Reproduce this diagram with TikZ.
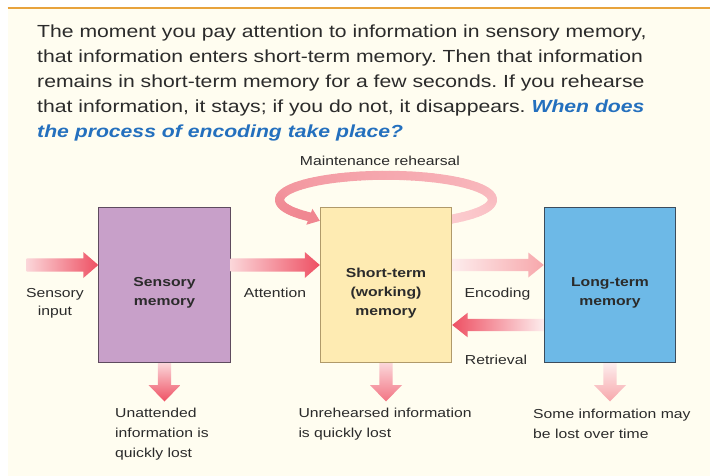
\documentclass[tikz,border=0pt]{standalone}
\usepackage{fontspec}
\setmainfont{Liberation Sans}[FakeStretch=1.21]
\usetikzlibrary{calc}
\frenchspacing

\definecolor{cream}{HTML}{FFFDF0}
\definecolor{rulecol}{HTML}{E8A33C}
\definecolor{ink}{HTML}{2B2B2B}
\definecolor{askblue}{HTML}{2470BE}
\definecolor{sensfill}{HTML}{C8A0C9}
\definecolor{sensline}{HTML}{5E4B5E}
\definecolor{stmfill}{HTML}{FEEBB2}
\definecolor{stmline}{HTML}{B09A6A}
\definecolor{ltmfill}{HTML}{6DB9E7}
\definecolor{ltmline}{HTML}{3C4C5C}
\definecolor{flowpale}{HTML}{FBD6D9}
\definecolor{flowred}{HTML}{EE5063}
\definecolor{flowmid}{HTML}{F27483}
\definecolor{softpale}{HTML}{FDEDED}
\definecolor{softred}{HTML}{F7A7AB}
\definecolor{looptail}{HTML}{FCCDD0}
\definecolor{loophead}{HTML}{F08690}

\pgfdeclarelayer{behind}
\pgfsetlayers{behind,main}

% broad shaded arrow: #1 shading, #2 tail, #3 tip,
% #4 half shaft width, #5 half head width, #6 head length
\newcommand\flowarrow[6]{%
  \path ($(#3)!#6!(#2)$) coordinate (hb);
  \shade[#1] ($(#2)!#4!90:(#3)$) -- ($(hb)!#4!90:(#3)$) -- ($(hb)!#5!90:(#3)$)
    -- (#3) -- ($(hb)!#5!-90:(#3)$) -- ($(hb)!#4!-90:(#3)$)
    -- ($(#2)!#4!-90:(#3)$) -- cycle;
}

\begin{document}
\begin{tikzpicture}[x=1pt,y=-1pt,
  memory/.style={draw, line width=1.1pt, minimum width=131.3pt,
    minimum height=154.8pt, inner sep=0pt},
  boxlabel/.style={font=\fontsize{13}{19.3}\selectfont\bfseries, text=ink,
    align=center, inner sep=0pt, anchor=north},
  note/.style={font=\fontsize{13}{20}\selectfont, text=ink, inner sep=0pt},
  para/.style={font=\fontsize{17.5}{25}\selectfont, text=ink,
    anchor=base west, inner sep=0pt}]

\useasboundingbox (0,0) rectangle (710,476);

\begin{pgfonlayer}{behind}
  \fill[white] (0,0) rectangle (710,476);
  \fill[cream] (7.5,8) rectangle (710,476);
  \draw[rulecol, line width=1.5pt] (7.5,8) -- (710,8);
\end{pgfonlayer}

% introductory paragraph
\node[para] (p1) at (37,37.5) {The moment you pay attention to information in sensory memory,};
\node[para] (p2) at (37,62.5) {that information enters short-term memory. Then that information};
\node[para] (p3) at (37,87.5) {remains in short-term memory for a few seconds. If you rehearse};
\node[para] (p4) at (37,112.5) {that information, it stays; if you do not, it disappears. {\color{askblue}\bfseries\itshape When does}};
\node[para] (p5) at (37,137.5) {{\color{askblue}\bfseries\itshape the process of encoding take place?}};

% the three memory stores
\node[memory, fill=sensfill, draw=sensline] (sm) at (164.5,285.25) {};
\node[memory, fill=stmfill, draw=stmline] (stm) at (386,285.25) {};
\node[memory, fill=ltmfill, draw=ltmline] (ltm) at (610,285.25) {};

\node[boxlabel] (smtext) at (164.5,277) {Sensory\\memory};
\node[boxlabel] (stmtext) at (386,267.5) {Short-term\\(working)\\memory};
\node[boxlabel] (ltmtext) at (610,277) {Long-term\\memory};

% maintenance rehearsal loop, passing behind the short-term store
\begin{pgfonlayer}{behind}
  \coordinate (lc) at ($(stm.north)+(0,-7.5)$);
  \foreach \a [evaluate=\a as \p using {(60-\a)/2.84}] in {60,56,...,-220} {
    \draw[line width=9pt, line cap=round, color=loophead!\p!looptail]
      (lc) ++(\a:106.5 and 24.5)
      arc[start angle=\a, end angle=\a-4, x radius=106.5, y radius=24.5];
  }
  \path (lc) ++(-224:106.5 and 24.5) coordinate (lb);
  \coordinate (lt) at ($(stm.north west)+(0,13.5)$);
  \fill[loophead] ($(lb)!8.5pt!90:(lt)$) -- (lt) -- ($(lb)!8.5pt!-90:(lt)$) -- cycle;
\end{pgfonlayer}

% flows between the stores
\coordinate (inlet) at (26.5,265);
\coordinate (back) at (544,325);
\coordinate (smin) at (sm.west |- inlet);
\coordinate (smout) at (sm.east |- inlet);
\coordinate (stmin) at (stm.west |- inlet);
\coordinate (stmout) at (stm.east |- inlet);
\coordinate (ltmin) at (ltm.west |- inlet);
\coordinate (ltmback) at (ltm.west |- back);
\coordinate (stmback) at (stm.east |- back);
\coordinate (smlost) at ($(sm.south)+(0,38.3)$);
\coordinate (stmlost) at ($(stm.south)+(0,38.3)$);
\coordinate (ltmlost) at ($(ltm.south)+(0,38.3)$);

\flowarrow{left color=flowpale, right color=flowred}{inlet}{smin}{6.7pt}{13pt}{15pt}
\flowarrow{left color=flowpale, right color=flowred}{smout}{stmin}{6.7pt}{13pt}{15pt}
\flowarrow{left color=softpale, right color=softred}{stmout}{ltmin}{6.2pt}{12.5pt}{15.5pt}
\flowarrow{left color=flowred, right color=softpale}{ltmback}{stmback}{6.2pt}{12.3pt}{15.5pt}
\flowarrow{top color=flowpale, bottom color=flowred}{sm.south}{smlost}{6.7pt}{16pt}{16.5pt}
\flowarrow{top color=flowpale, bottom color=flowmid}{stm.south}{stmlost}{6.7pt}{16pt}{16.5pt}
\flowarrow{top color=softpale, bottom color=softred}{ltm.south}{ltmlost}{6.7pt}{16pt}{16.5pt}

% flow labels
\node[note, anchor=base] (maint) at (380,165.7) {Maintenance rehearsal};
\node[note, anchor=north, align=center, font=\fontsize{13}{18}\selectfont] (sinput) at (55,287.8) {Sensory\\input};
\node[note, anchor=base] (attn) at (275,297) {Attention};
\node[note, anchor=base] (enc) at (497.5,297.3) {Encoding};
\node[note, anchor=base] (ret) at (496,364) {Retrieval};

\node[note, anchor=north west, align=left] (lost1) at (115,408.2) {Unattended\\information is\\quickly lost};
\node[note, anchor=north west, align=left] (lost2) at (298.3,408.2) {Unrehearsed information\\is quickly lost};
\node[note, anchor=north west, align=left] (lost3) at (533,408.5) {Some information may\\be lost over time};

\end{tikzpicture}
\end{document}
